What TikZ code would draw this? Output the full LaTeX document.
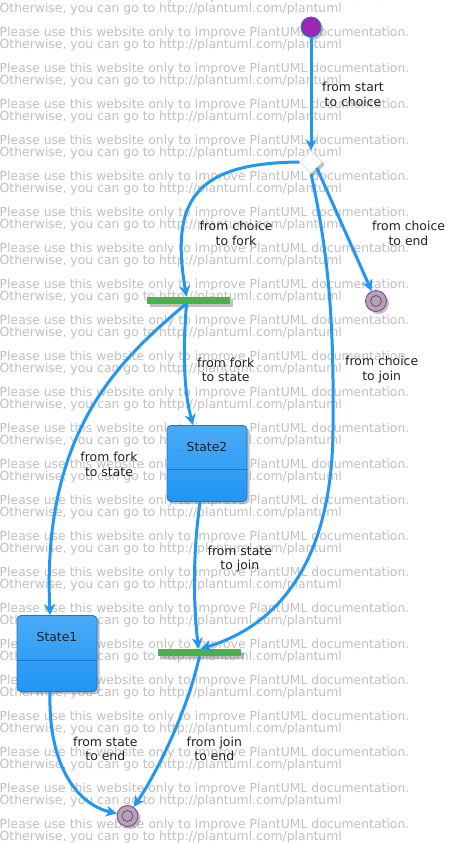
\documentclass[tikz,border=0pt]{standalone}
\usepackage{fontspec}
\setmainfont{DejaVu Sans}
\usetikzlibrary{arrows.meta, positioning, shapes.geometric, shadows}
\definecolor{umlblue}{RGB}{33,150,243}
\definecolor{umlbluetop}{RGB}{74,170,246}
\definecolor{umlborder}{RGB}{25,118,210}
\definecolor{umlpurple}{RGB}{156,39,176}
\definecolor{umlgreen}{RGB}{76,175,80}
\definecolor{umlgray}{RGB}{170,170,170}
\definecolor{umltext}{RGB}{34,34,34}
\definecolor{wmgray}{RGB}{192,192,192}
\tikzset{
  umlshadow/.style={drop shadow={shadow xshift=2.5pt, shadow yshift=-2.5pt, opacity=0.4, fill=black!60}},
  trans/.style={umlblue, line width=3pt, -{Stealth[length=11pt, width=11pt, inset=3.5pt]}},
  lbl/.style={font=\fontsize{12.4}{14.3}\selectfont, text=umltext, align=center, inner sep=0pt},
  wm/.style={anchor=base west, inner sep=0pt, font=\fontsize{12.4}{14}\selectfont, text=wmgray},
  statebox/.style={draw=umlborder, line width=0.8pt, rounded corners=4pt, top color=umlbluetop,
    bottom color=umlblue, minimum width=80pt, minimum height=76pt, umlshadow},
  bar/.style={fill=umlgreen, minimum width=83pt, minimum height=7pt, inner sep=0pt, umlshadow},
  endstate/.style={circle, draw=umlpurple, fill=umlgray, minimum size=21pt, inner sep=0pt,
    line width=0.8pt, umlshadow}
}
\begin{document}
\begin{tikzpicture}[x=1pt, y=-1pt]
  \useasboundingbox (0,0) rectangle (468,844);
  \clip (0,0) rectangle (468,844);
  \fill[white] (0,0) rectangle (468,844);
  \foreach \k in {-1,...,23} {
    \node[wm] (wmp\k) at (-0.5, 36.3+36*\k) {Please use this website only to improve PlantUML documentation.};
    \node[wm] (wmo\k) at (-0.5, 48.8+36*\k) {Otherwise, you can go to http://plantuml.com/plantuml};
  }

  \node[circle, fill=umlpurple, draw=umlborder, line width=0.8pt, minimum size=20pt, inner sep=0pt,
        umlshadow] (start) at (311,27) {};
  \node[diamond, draw=black!20, fill=white, minimum width=23pt, minimum height=23pt, inner sep=0pt,
        umlshadow] (choice) at (311,162) {};
  \node[bar] (fork) at (188.5,300.5) {};
  \node[bar] (join) at (199.5,652.5) {};
  \node[endstate] (end1) at (376,301) {};
  \draw[umlpurple, line width=0.8pt] (end1) circle (5.5pt);
  \node[endstate] (end2) at (127.5,816) {};
  \draw[umlpurple, line width=0.8pt] (end2) circle (5.5pt);

  \node[statebox] (s2) at (207,463.5) {};
  \node[lbl] (s2title) at ([yshift=-22pt]s2.north) {State2};
  \draw[umlborder, line width=0.8pt] ([yshift=-44pt]s2.north west) -- ([yshift=-44pt]s2.north east);
  \node[statebox] (s1) at (57,653.5) {};
  \node[lbl] (s1title) at ([yshift=-22pt]s1.north) {State1};
  \draw[umlborder, line width=0.8pt] ([yshift=-45pt]s1.north west) -- ([yshift=-45pt]s1.north east);

  \draw[trans] (start) -- (choice);
  \draw[trans] (choice.west) .. controls (195,163) and (170,200) .. ([xshift=-2pt]fork.north);
  \draw[trans] (choice.south east) -- (end1);
  \draw[trans] (choice.south) .. controls (330,260) and (334,330) .. (333,430)
    .. controls (332,560) and (280,625) .. ([xshift=1pt]join.north);
  \draw[trans] ([xshift=-2pt]fork.south) .. controls (182,360) and (185,395) .. ([xshift=-14pt]s2.north);
  \draw[trans] ([xshift=-3pt]fork.south) .. controls (120,360) and (42,430) .. ([xshift=-7pt]s1.north);
  \draw[trans] ([xshift=-7pt]s2.south) .. controls (192,560) and (194,610) .. ([xshift=-1pt]join.north);
  \draw[trans] (join.south) .. controls (185,720) and (152,780) .. (end2);
  \draw[trans] ([xshift=-7pt]s1.south) .. controls (48,770) and (80,805) .. (end2);

  \node[lbl] (l1) at (353,94.5) {from start\\to choice};
  \node[lbl] (l2) at (236,233.5) {from choice\\to fork};
  \node[lbl] (l3) at (408.5,233.5) {from choice\\to end};
  \node[lbl] (l4) at (225.7,369.7) {from fork\\to state};
  \node[lbl] (l5) at (381.7,369.7) {from choice\\to join};
  \node[lbl] (l6) at (109,464.5) {from fork\\to state};
  \node[lbl] (l7) at (239.8,559.3) {from state\\to join};
  \node[lbl] (l8) at (105.3,748.7) {from state\\to end};
  \node[lbl] (l9) at (214.3,748.7) {from join\\to end};
\end{tikzpicture}
\end{document}
